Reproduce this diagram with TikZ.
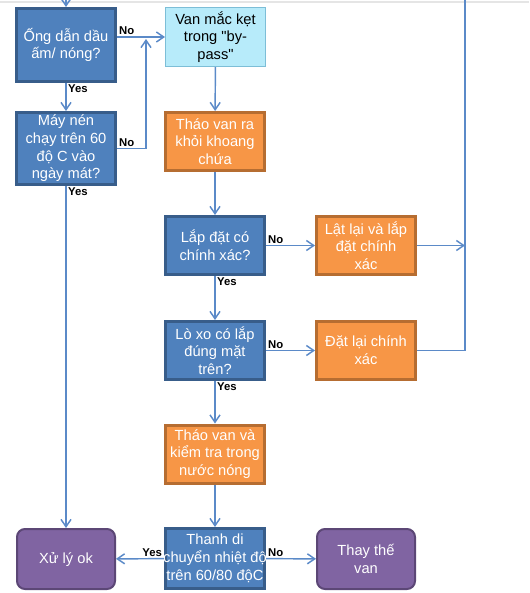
\documentclass[tikz,border=0pt]{standalone}
\usepackage{fontspec}
\setmainfont{Liberation Sans}
\usetikzlibrary{arrows.meta}
\definecolor{qfill}{RGB}{79,129,189}
\definecolor{qline}{RGB}{56,93,138}
\definecolor{afill}{RGB}{247,150,70}
\definecolor{aline}{RGB}{182,109,49}
\definecolor{efill}{RGB}{128,100,162}
\definecolor{eline}{RGB}{92,71,118}
\definecolor{ifill}{RGB}{183,235,250}
\definecolor{iline}{RGB}{125,190,215}
\definecolor{flowcol}{RGB}{91,138,200}
\newcommand{\spill}[1]{\makebox[60pt]{#1}}
\begin{document}
\begin{tikzpicture}[x=0.75pt, y=-0.75pt,
    box/.style={draw, line width=2.25pt, minimum width=74.25pt, minimum height=43.5pt,
      inner sep=1pt, align=center, text=white, font=\fontsize{11}{13.3}\selectfont},
    qbox/.style={box, fill=qfill, draw=qline},
    actbox/.style={box, fill=afill, draw=aline},
    endbox/.style={box, fill=efill, draw=eline, line width=1.5pt, rounded corners=6pt,
      minimum width=73.5pt, minimum height=45pt},
    infobox/.style={box, fill=ifill, draw=iline, line width=0.75pt, text=black,
      minimum width=75pt, minimum height=44.25pt},
    flow/.style={draw=flowcol, line width=1.1pt, -{Straight Barb[length=5.5pt, width=7.5pt]}},
    link/.style={draw=flowcol, line width=1.1pt},
    lbl/.style={font=\bfseries\fontsize{8.5}{10}\selectfont, inner sep=1pt}
  ]
  \useasboundingbox (0,0) rectangle (529,593);
  \clip (0,0) rectangle (529,593);
  \draw[gray!20, line width=1pt] (0,2) -- (529,2);

  % Nodes
  \node[qbox, minimum height=54.75pt] at (66, 45) (a) {Ống dẫn dầu\\ấm/ nóng?};
  \node[qbox, minimum height=54pt] at (66, 148.5) (b) {Máy nén\\chạy trên 60\\độ C vào\\ngày mát?};
  \node[infobox] at (215.5, 37) (c) {Van mắc kẹt\\trong \textquotedbl by-\\pass\textquotedbl};
  \node[actbox] at (215, 141.5) (d) {Tháo van ra\\khỏi khoang\\chứa};
  \node[qbox] at (215, 245.5) (e) {Lắp đặt có\\chính xác?};
  \node[actbox] at (366, 245.5) (f) {Lật lại và lắp\\đặt chính\\xác};
  \node[qbox] at (215, 350.5) (g) {Lò xo có lắp\\đúng mặt\\trên?};
  \node[actbox] at (366, 350.5) (h) {Đặt lại chính\\xác};
  \node[actbox] at (215, 454) (i) {Tháo van và\\kiểm tra trong\\nước nóng};
  \node[qbox, minimum height=45pt] at (215, 558.5) (j) {Thanh di\\\spill{chuyển nhiệt độ}\\\spill{trên 60/80 độC}};
  \node[endbox] at (66, 559) (k) {Xử lý ok};
  \node[endbox] at (366, 559) (l) {Thay thế\\van};

  \coordinate (atop) at (66, -5);
  \coordinate (bjoin) at (146, 39);
  \coordinate (fjoin) at (465, 245.5);
  \coordinate (rtop) at (465, -5);

  \draw[flow] (atop) -- (a);
  \draw[flow] (a.east |- c.west) -- node[lbl, anchor=south west, pos=0] {No} (c.west);
  \draw[flow] (a) -- node[lbl, anchor=north west, pos=0] {Yes} (b);
  \draw[flow] (b.east) node[lbl, anchor=south west] {No} -| (bjoin);
  \draw[flow] (b) -- node[lbl, anchor=north west, pos=0] {Yes} (k);
  \draw[flow] (c) -- (d);
  \draw[flow] (d) -- (e);
  \draw[flow] (e) -- node[lbl, anchor=south west, pos=0] {No} (f);
  \draw[flow] (f) -- (fjoin);
  \draw[flow] (e) -- node[lbl, anchor=north west, pos=0] {Yes} (g);
  \draw[flow] (g) -- node[lbl, anchor=south west, pos=0] {No} (h);
  \draw[link] (h) -| (rtop);
  \draw[flow] (g) -- node[lbl, anchor=north west, pos=0] {Yes} (i);
  \draw[flow] (i) -- (j);
  \draw[flow] (j) -- node[lbl, anchor=south east, pos=0] {Yes} (k);
  \draw[flow] (j) -- node[lbl, anchor=south west, pos=0] {No} (l);
\end{tikzpicture}
\end{document}
